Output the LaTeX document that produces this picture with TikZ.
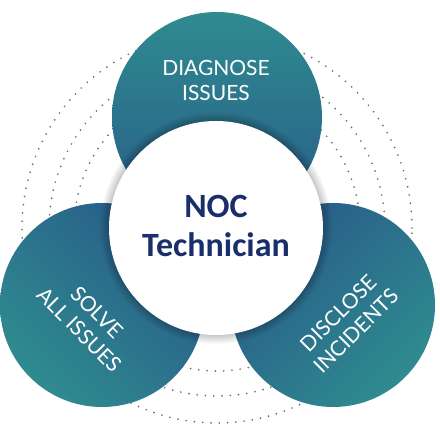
\documentclass[tikz,border=0pt]{standalone}
\usepackage{fontspec}
\setmainfont{Lato}
\newfontfamily\centerfont{Carlito}
\definecolor{tealc}{HTML}{2F8B8F}
\definecolor{bluec}{HTML}{285B89}
\definecolor{navyc}{HTML}{1B2E6C}
\definecolor{dotc}{HTML}{6E6E6E}
\tikzset{
  ring/.style={draw=dotc, line width=1.9pt, line cap=round, dash pattern=on 0pt off 8.3pt},
  petal/.style={circle, inner sep=0pt},
  petaltext/.style={text=white, font=\fontsize{21}{25}\selectfont, align=center},
}
\begin{document}
\begin{tikzpicture}[x=1pt,y=1pt]
\useasboundingbox (0,0) rectangle (440,438);
\fill[white] (0,0) rectangle (440,438);
% dotted rings
\coordinate (rc) at (217,210);
\draw[ring] (rc) circle (143);
\draw[ring] (rc) circle (168);
\draw[ring] (rc) circle (195);
% petals
\path[top color=tealc, bottom color=bluec] (217,321) circle (105);
\node[petal, minimum size=210pt] (top) at (217,321) {};
\path[top color=tealc, bottom color=bluec, shading angle=135] (102,133) circle (102);
\node[petal, minimum size=204pt] (bl) at (102,133) {};
\path[top color=tealc, bottom color=bluec, shading angle=-135] (333,133) circle (102);
\node[petal, minimum size=204pt] (br) at (333,133) {};
% shadow of centre circle
\foreach \k in {1,...,9} {
  \fill[black, opacity=0.025] (216,210) circle (107+\k);
}
\node[circle, fill=white, minimum size=214pt, inner sep=0pt] (hub) at (216,210) {};
% texts
\node[font=\centerfont\bfseries\fontsize{34}{39}\selectfont, text=navyc, align=center] (hubtext) at (216,212) {NOC\\Technician};
\node[petaltext] (toptext) at (216,358) {DIAGNOSE\\ISSUES};
\node[petaltext, rotate=-45] (bltext) at (88,117) {SOLVE\\ALL ISSUES};
\node[petaltext, rotate=45] (brtext) at (347,116) {DISCLOSE\\INCIDENTS};
\end{tikzpicture}
\end{document}
